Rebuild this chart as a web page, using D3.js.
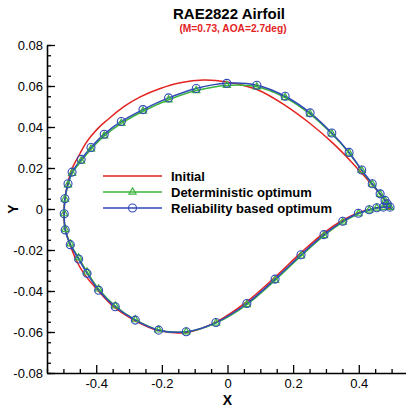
<!DOCTYPE html>
<html>
<head>
<meta charset="utf-8">
<script src="https://cdn.jsdelivr.net/npm/d3@7"></script>
<style>
  body { margin: 0; background: #fff; }
  svg text { font-family: "Liberation Sans", Arial, sans-serif; }
</style>
</head>
<body>
<div id="chart"></div>
<script>
// Airfoil coordinates, starting at the trailing edge,
// running over the upper surface to the leading edge and back along the lower one.
var initialPts = [
  [0.500, 0.0000], [0.465, 0.0074], [0.424, 0.0148], [0.3735, 0.0237], [0.3227, 0.0319],
  [0.2517, 0.0417], [0.1756, 0.0506], [0.0895, 0.0583], [-0.002, 0.0620], [-0.073, 0.0629],
  [-0.144, 0.0616], [-0.205, 0.0588], [-0.266, 0.0547], [-0.317, 0.0498], [-0.367, 0.0433],
  [-0.3925, 0.0397], [-0.418, 0.0351], [-0.4335, 0.0316], [-0.449, 0.0272], [-0.4737, 0.0197],
  [-0.487, 0.0123], [-0.496, 0.0040],
  [-0.4985, -0.0030], [-0.4945, -0.0095], [-0.484, -0.0154], [-0.4636, -0.0240], [-0.438, -0.0314],
  [-0.3976, -0.0392], [-0.347, -0.0477], [-0.281, -0.0545], [-0.210, -0.0593], [-0.124, -0.0602],
  [-0.0353, -0.0552], [0.059, -0.0452], [0.145, -0.0332], [0.224, -0.0213], [0.294, -0.0116],
  [0.351, -0.0055], [0.399, -0.0018], [0.432, -0.0003], [0.455, 0.0006], [0.475, 0.0009],
  [0.500, 0.0000]
];

var deterministicPts = [
  [0.500, 0.0000], [0.487, 0.0024], [0.480, 0.0040], [0.465, 0.0072], [0.441, 0.0121],
  [0.409, 0.0188], [0.3705, 0.0273], [0.3178, 0.0367], [0.2517, 0.0463], [0.1756, 0.0544],
  [0.0895, 0.0596], [-0.002, 0.0603], [-0.0953, 0.0578], [-0.1796, 0.0533], [-0.2575, 0.0477],
  [-0.3236, 0.0418], [-0.3756, 0.0357], [-0.416, 0.0292], [-0.446, 0.0234], [-0.4736, 0.0174],
  [-0.486, 0.0118], [-0.4954, 0.0048], [-0.4975, -0.0023], [-0.4946, -0.0100], [-0.479, -0.0170],
  [-0.4536, -0.0238], [-0.428, -0.0307], [-0.3927, -0.0390], [-0.342, -0.0473], [-0.281, -0.0540],
  [-0.210, -0.0590], [-0.1257, -0.0599], [-0.0353, -0.0556], [0.059, -0.0466], [0.145, -0.0348],
  [0.224, -0.0229], [0.294, -0.0130], [0.3513, -0.0064], [0.3988, -0.0023], [0.432, -0.0005],
  [0.4548, 0.0005], [0.4749, 0.0008], [0.4953, 0.0008], [0.500, 0.0000]
];

var reliabilityPts = [
  [0.500, 0.0000], [0.487, 0.0025], [0.480, 0.0042], [0.465, 0.0074], [0.441, 0.0123],
  [0.409, 0.0190], [0.3705, 0.0276], [0.3178, 0.0371], [0.2517, 0.0469], [0.1756, 0.0550],
  [0.0895, 0.0604], [-0.002, 0.0613], [-0.0953, 0.0588], [-0.1796, 0.0542], [-0.2575, 0.0485],
  [-0.3236, 0.0427], [-0.3756, 0.0365], [-0.416, 0.0300], [-0.446, 0.0242], [-0.4736, 0.0180],
  [-0.486, 0.0123], [-0.4954, 0.0050], [-0.4975, -0.0023], [-0.4946, -0.0102], [-0.479, -0.0174],
  [-0.4536, -0.0244], [-0.428, -0.0314], [-0.3927, -0.0396], [-0.342, -0.0477], [-0.281, -0.0542],
  [-0.210, -0.0591], [-0.1257, -0.0599], [-0.0353, -0.0554], [0.059, -0.0461], [0.145, -0.0342],
  [0.224, -0.0223], [0.294, -0.0125], [0.3513, -0.0060], [0.3988, -0.0021], [0.432, -0.0004],
  [0.4548, 0.0006], [0.4749, 0.0009], [0.4953, 0.0009], [0.500, 0.0000]
];

var seriesNames = ["Initial", "Deterministic optimum", "Reliability based optimum"];
var seriesColors = ["#e3231f", "#3cb43c", "#3048b8"];

var xMajorTicks = [-0.4, -0.2, 0, 0.2, 0.4];
var xMinorTicks = [-0.55, -0.5, -0.45, -0.35, -0.3, -0.25, -0.15, -0.1, -0.05,
                   0.05, 0.1, 0.15, 0.25, 0.3, 0.35, 0.45, 0.5];
var yMajorTicks = [-0.08, -0.06, -0.04, -0.02, 0, 0.02, 0.04, 0.06, 0.08];
var yMinorTicks = d3.range(-16, 17).map(function(i) { return i * 0.005; });

var titleText = "RAE2822 Airfoil";
var subtitleText = "(M=0.73, AOA=2.7deg)";

var W = 406, H = 406;

var svg = d3.select("#chart").append("svg")
  .attr("width", W)
  .attr("height", H);

// Scales
var x = d3.scaleLinear().domain([-0.55, 0.55]).range([47, 408]);
var y = d3.scaleLinear().domain([-0.08, 0.08]).range([373, 45]);

function fmt(d) {
  return d === 0 ? "0" : String(+d.toFixed(2));
}

// Minor ticks first, major ticks with labels on top
svg.append("g")
  .attr("transform", "translate(0," + y.range()[0] + ")")
  .call(d3.axisBottom(x).tickValues(xMinorTicks).tickSize(-4).tickFormat(""))
  .call(function(g) { g.select(".domain").remove(); });

svg.append("g")
  .attr("transform", "translate(" + x.range()[0] + ",0)")
  .call(d3.axisLeft(y).tickValues(yMinorTicks).tickSize(-4).tickFormat(""))
  .call(function(g) { g.select(".domain").remove(); });

var xAxis = svg.append("g")
  .attr("class", "axis x-axis")
  .attr("transform", "translate(0," + y.range()[0] + ")")
  .call(d3.axisBottom(x).tickValues(xMajorTicks).tickSize(-8).tickSizeOuter(0).tickPadding(6).tickFormat(fmt));

var yAxis = svg.append("g")
  .attr("class", "axis y-axis")
  .attr("transform", "translate(" + x.range()[0] + ",0)")
  .call(d3.axisLeft(y).tickValues(yMajorTicks).tickSize(-8).tickSizeOuter(0).tickPadding(4).tickFormat(fmt));

svg.selectAll(".tick line").attr("stroke", "#000").attr("stroke-width", 1.3);
svg.selectAll(".domain").attr("stroke", "#000").attr("stroke-width", 1.6);
svg.selectAll(".axis text")
  .attr("fill", "#000")
  .style("font-size", "13px");

// Axis titles
svg.append("text")
  .attr("x", 227.5)
  .attr("y", 404.5)
  .attr("text-anchor", "middle")
  .style("font-size", "14px")
  .style("font-weight", "bold")
  .text("X");

svg.append("text")
  .attr("text-anchor", "middle")
  .attr("transform", "translate(17.5,209)rotate(-90)")
  .style("font-size", "14px")
  .style("font-weight", "bold")
  .text("Y");

// Titles
svg.append("text")
  .attr("x", 229)
  .attr("y", 18.5)
  .attr("text-anchor", "middle")
  .style("font-size", "15px")
  .style("font-weight", "bold")
  .text(titleText);

svg.append("text")
  .attr("x", 233)
  .attr("y", 31.5)
  .attr("text-anchor", "middle")
  .attr("fill", "#e3231f")
  .style("font-size", "10.2px")
  .style("font-weight", "bold")
  .text(subtitleText);

// Curves
var line = d3.line()
  .x(function(d) { return x(d[0]); })
  .y(function(d) { return y(d[1]); })
  .curve(d3.curveCatmullRom.alpha(0.5));

var allSeries = [initialPts, deterministicPts, reliabilityPts];

allSeries.forEach(function(pts, i) {
  svg.append("path")
    .datum(pts)
    .attr("fill", "none")
    .attr("stroke", seriesColors[i])
    .attr("stroke-width", 1.5)
    .attr("d", line);
});

var triangle = d3.symbol().type(d3.symbolTriangle).size(22);

svg.append("g").selectAll("path")
  .data(deterministicPts.slice(1, -1))
  .enter().append("path")
  .attr("transform", function(d) { return "translate(" + x(d[0]) + "," + y(d[1]) + ")"; })
  .attr("d", triangle)
  .attr("fill", "none")
  .attr("stroke", seriesColors[1])
  .attr("stroke-width", 1.2);

svg.append("g").selectAll("circle")
  .data(reliabilityPts.slice(1, -1))
  .enter().append("circle")
  .attr("cx", function(d) { return x(d[0]); })
  .attr("cy", function(d) { return y(d[1]); })
  .attr("r", 4)
  .attr("fill", "none")
  .attr("stroke", seriesColors[2])
  .attr("stroke-width", 1.1);

// Legend
var legend = svg.append("g").attr("transform", "translate(103,176)");

seriesNames.forEach(function(name, i) {
  var ly = i * 16;
  legend.append("line")
    .attr("x1", 0).attr("x2", 59)
    .attr("y1", ly).attr("y2", ly)
    .attr("stroke", seriesColors[i])
    .attr("stroke-width", 1.5);
  if (i == 1) {
    legend.append("path")
      .attr("transform", "translate(29.5," + ly + ")")
      .attr("d", triangle)
      .attr("fill", "none")
      .attr("stroke", seriesColors[i])
      .attr("stroke-width", 1.2);
  }
  if (i == 2) {
    legend.append("circle")
      .attr("cx", 29.5).attr("cy", ly).attr("r", 4)
      .attr("fill", "none")
      .attr("stroke", seriesColors[i])
      .attr("stroke-width", 1.1);
  }
  legend.append("text")
    .attr("x", 68)
    .attr("y", ly + 4.5)
    .style("font-size", "13px")
    .style("font-weight", "bold")
    .text(name);
});
</script>
</body>
</html>
